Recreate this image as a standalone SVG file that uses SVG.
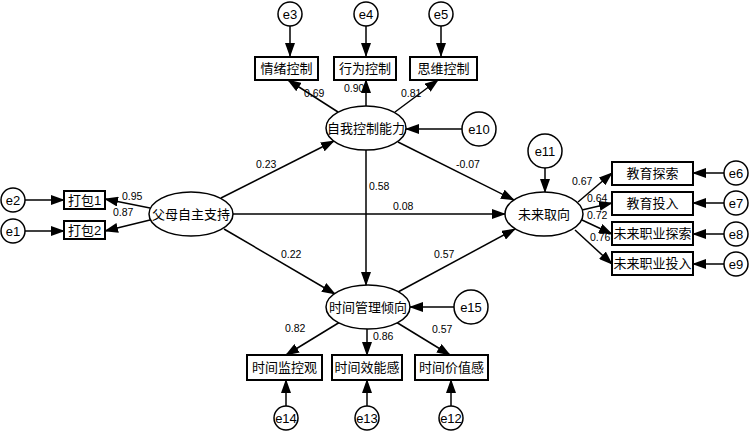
<svg xmlns="http://www.w3.org/2000/svg" width="749" height="431" viewBox="0 0 749 431">
<style>
text{font-family:"Liberation Sans","Noto Sans CJK SC",sans-serif;fill:#000}
.t{font-size:13px;text-anchor:middle;dominant-baseline:central}
.n{font-size:10.5px}
.box{fill:#fff;stroke:#000;stroke-width:2}
.ell{fill:#fff;stroke:#000;stroke-width:1.5}
.e{fill:#fff;stroke:#000;stroke-width:1.5}
.c line{stroke:#000;stroke-width:1.5;marker-end:url(#ah)}
</style>
<defs>
<marker id="ah" markerUnits="userSpaceOnUse" markerWidth="14" markerHeight="10" refX="13" refY="5" orient="auto"><path d="M0,0 L14,5 L0,10 Z" fill="#000"/></marker>
</defs>
<rect width="749" height="431" fill="#fff"/>
<g class="c" id="connectors">
<line x1="290" y1="26" x2="290" y2="56"/>
<line x1="366" y1="26" x2="366" y2="56"/>
<line x1="441" y1="26" x2="441" y2="56"/>
<line x1="338" y1="112" x2="288" y2="80"/>
<line x1="366" y1="106" x2="366" y2="80"/>
<line x1="395" y1="112" x2="438" y2="80"/>
<line x1="462" y1="129" x2="406" y2="129"/>
<line x1="25" y1="200" x2="64" y2="200"/>
<line x1="25" y1="231" x2="64" y2="231"/>
<line x1="150" y1="208" x2="105" y2="199"/>
<line x1="150" y1="220" x2="105" y2="231"/>
<line x1="221" y1="198" x2="334" y2="141"/>
<line x1="233" y1="214" x2="505" y2="214"/>
<line x1="224" y1="229" x2="335" y2="294"/>
<line x1="366" y1="150" x2="366" y2="285"/>
<line x1="398" y1="142" x2="514" y2="200"/>
<line x1="398" y1="292" x2="515" y2="229"/>
<line x1="545" y1="168" x2="545" y2="192"/>
<line x1="578" y1="202" x2="612" y2="173"/>
<line x1="582" y1="210" x2="612" y2="203"/>
<line x1="582" y1="220" x2="612" y2="234"/>
<line x1="575" y1="230" x2="612" y2="264"/>
<line x1="724" y1="173" x2="693" y2="173"/>
<line x1="724" y1="203" x2="693" y2="203"/>
<line x1="724" y1="234" x2="693" y2="234"/>
<line x1="724" y1="264" x2="693" y2="264"/>
<line x1="340" y1="322" x2="286" y2="355"/>
<line x1="367" y1="329" x2="367" y2="355"/>
<line x1="396" y1="322" x2="450" y2="355"/>
<line x1="454" y1="307" x2="410" y2="307"/>
<line x1="286" y1="406" x2="286" y2="380"/>
<line x1="367" y1="406" x2="367" y2="380"/>
<line x1="451" y1="406" x2="451" y2="380"/>
</g>
<g id="labels" class="n">
<text x="304" y="97">0.69</text>
<text x="344" y="92">0.90</text>
<text x="401" y="97">0.81</text>
<text x="256" y="168">0.23</text>
<text x="456" y="168">-0.07</text>
<text x="369" y="190">0.58</text>
<text x="393" y="210">0.08</text>
<text x="281" y="258">0.22</text>
<text x="434" y="258">0.57</text>
<text x="122" y="200">0.95</text>
<text x="113" y="216">0.87</text>
<text x="572" y="185">0.67</text>
<text x="587" y="202">0.64</text>
<text x="587" y="219">0.72</text>
<text x="590" y="241">0.76</text>
<text x="285" y="332">0.82</text>
<text x="373" y="340">0.86</text>
<text x="432" y="333">0.57</text>
</g>
<g id="e3"><circle class="e" cx="290" cy="14" r="12"/><text class="t" x="290" y="14">e3</text></g>
<g id="e4"><circle class="e" cx="366" cy="14" r="12"/><text class="t" x="366" y="14">e4</text></g>
<g id="e5"><circle class="e" cx="441" cy="14" r="12"/><text class="t" x="441" y="14">e5</text></g>
<g id="n_qingxu"><rect class="box" x="255" y="57" width="63" height="23"/><text class="t" x="286.5" y="68.5">情绪控制</text></g>
<g id="n_xingwei"><rect class="box" x="334" y="57" width="62" height="23"/><text class="t" x="365" y="68.5">行为控制</text></g>
<g id="n_siwei"><rect class="box" x="410" y="57" width="67" height="23"/><text class="t" x="443.5" y="68.5">思维控制</text></g>
<g id="n_ziwo"><ellipse class="ell" cx="366" cy="128" rx="40" ry="22"/><text class="t" x="366" y="128">自我控制能力</text></g>
<g id="e10"><circle class="e" cx="479" cy="129" r="17"/><text class="t" x="479" y="129">e10</text></g>
<g id="e2"><circle class="e" cx="13" cy="200" r="12"/><text class="t" x="13" y="200">e2</text></g>
<g id="e1"><circle class="e" cx="13" cy="231" r="12"/><text class="t" x="13" y="231">e1</text></g>
<g id="n_dabao1"><rect class="box" x="64" y="191" width="41" height="18"/><text class="t" x="84.5" y="200">打包1</text></g>
<g id="n_dabao2"><rect class="box" x="64" y="221" width="41" height="18"/><text class="t" x="84.5" y="230">打包2</text></g>
<g id="n_fumu"><ellipse class="ell" cx="191" cy="214" rx="42" ry="22"/><text class="t" x="191" y="214">父母自主支持</text></g>
<g id="n_weilai"><ellipse class="ell" cx="544" cy="214" rx="39" ry="22"/><text class="t" x="544" y="214">未来取向</text></g>
<g id="e11"><circle class="e" cx="545" cy="151" r="17"/><text class="t" x="545" y="151">e11</text></g>
<g id="n_jytansuo"><rect class="box" x="612" y="162" width="81" height="23"/><text class="t" x="652.5" y="173.5">教育探索</text></g>
<g id="n_jytouru"><rect class="box" x="612" y="192" width="81" height="23"/><text class="t" x="652.5" y="203.5">教育投入</text></g>
<g id="n_zytansuo"><rect class="box" x="612" y="222" width="81" height="23"/><text class="t" x="652.5" y="233.5">未来职业探索</text></g>
<g id="n_zytouru"><rect class="box" x="612" y="252" width="81" height="23"/><text class="t" x="652.5" y="263.5">未来职业投入</text></g>
<g id="e6"><circle class="e" cx="736" cy="173" r="12"/><text class="t" x="736" y="173">e6</text></g>
<g id="e7"><circle class="e" cx="736" cy="203" r="12"/><text class="t" x="736" y="203">e7</text></g>
<g id="e8"><circle class="e" cx="736" cy="234" r="12"/><text class="t" x="736" y="234">e8</text></g>
<g id="e9"><circle class="e" cx="736" cy="264" r="12"/><text class="t" x="736" y="264">e9</text></g>
<g id="n_shijian"><ellipse class="ell" cx="368" cy="307" rx="42" ry="22"/><text class="t" x="368" y="307">时间管理倾向</text></g>
<g id="e15"><circle class="e" cx="471" cy="307" r="17"/><text class="t" x="471" y="307">e15</text></g>
<g id="n_jiankong"><rect class="box" x="247" y="355" width="75" height="25"/><text class="t" x="284.5" y="367.5">时间监控观</text></g>
<g id="n_xiaoneng"><rect class="box" x="332" y="355" width="70" height="25"/><text class="t" x="367" y="367.5">时间效能感</text></g>
<g id="n_jiazhi"><rect class="box" x="415" y="355" width="73" height="25"/><text class="t" x="451.5" y="367.5">时间价值感</text></g>
<g id="e14"><circle class="e" cx="286" cy="418" r="12"/><text class="t" x="286" y="418">e14</text></g>
<g id="e13"><circle class="e" cx="367" cy="418" r="12"/><text class="t" x="367" y="418">e13</text></g>
<g id="e12"><circle class="e" cx="451" cy="418" r="12"/><text class="t" x="451" y="418">e12</text></g>
</svg>
